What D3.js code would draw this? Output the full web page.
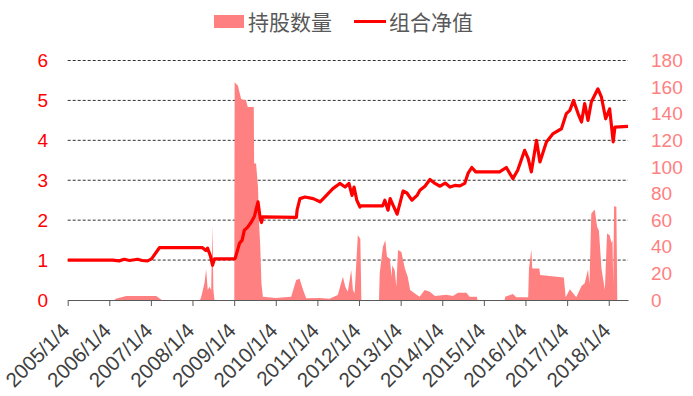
<!DOCTYPE html>
<html>
<head>
<meta charset="utf-8">
<script src="https://cdn.jsdelivr.net/npm/d3@7"></script>
<style>
  body { margin: 0; background: #fff; }
  svg { display: block; font-family: "Liberation Sans", Arial, sans-serif; }
</style>
</head>
<body>
<div id="container"></div>
<script>
const width = 693, height = 396;

// 组合净值 (left axis)
const navDates = ["2005-01-04","2006-02-01","2006-04-01","2006-05-15","2006-07-01","2006-09-10","2006-10-20","2006-12-05","2007-01-10","2007-03-20",
  "2008-04-01","2008-05-01","2008-05-15","2008-06-10","2008-06-28","2008-07-15","2009-01-04","2009-01-12","2009-02-20","2009-03-15",
  "2009-04-03","2009-05-01","2009-06-05","2009-07-01","2009-08-01","2009-08-20","2009-09-01","2009-09-10","2010-07-04","2010-07-10",
  "2010-08-04","2010-09-18","2010-11-28","2011-01-28","2011-03-10","2011-05-20","2011-07-20","2011-09-04","2011-10-08","2011-11-04",
  "2011-11-22","2011-12-16","2012-01-13","2012-01-22","2012-07-31","2012-08-18","2012-09-15","2012-10-04","2012-10-30","2012-12-04",
  "2013-01-01","2013-01-25","2013-02-28","2013-04-12","2013-05-28","2013-06-22","2013-08-05","2013-09-18","2013-11-01","2013-12-15",
  "2014-01-30","2014-03-12","2014-04-24","2014-06-08","2014-07-20","2014-08-18","2014-09-20","2014-10-25","2015-05-22","2015-07-20",
  "2015-09-16","2015-10-28","2015-12-28","2016-01-28","2016-02-25","2016-04-10","2016-05-10","2016-07-06","2016-09-03","2016-11-15",
  "2016-12-28","2017-01-28","2017-03-01","2017-04-10","2017-05-10","2017-06-07","2017-07-06","2017-08-04","2017-10-01","2017-11-01",
  "2017-12-08","2018-01-12","2018-02-12","2018-02-27","2018-06-22"];
const navValues = [1.00,1.00,0.98,1.02,0.99,1.02,0.99,0.98,1.03,1.31,
  1.31,1.24,1.30,1.10,0.87,1.03,1.03,1.04,1.42,1.50,
  1.75,1.82,1.96,2.10,2.46,2.05,1.94,2.08,2.07,2.25,
  2.54,2.58,2.54,2.46,2.58,2.79,2.92,2.83,2.92,2.62,
  2.83,2.50,2.33,2.36,2.36,2.50,2.25,2.54,2.37,2.15,
  2.46,2.73,2.68,2.50,2.62,2.75,2.85,3.02,2.92,2.85,
  2.93,2.83,2.87,2.86,2.92,3.17,3.32,3.21,3.21,3.32,
  3.04,3.25,3.75,3.54,3.21,4.00,3.46,3.96,4.17,4.29,
  4.67,4.75,5.00,4.67,4.46,4.92,4.50,4.96,5.29,5.08,
  4.54,4.79,3.96,4.33,4.35];

// 持股数量 (right axis)
const holdDates = ["2005-01-04","2006-02-20","2006-03-01","2006-06-01","2007-02-20","2007-03-25","2007-04-10","2008-03-10","2008-03-20","2008-04-18",
  "2008-05-03","2008-05-17","2008-06-01","2008-06-16","2008-06-28","2008-07-05","2008-07-15","2009-01-05","2009-01-08","2009-02-06",
  "2009-03-06","2009-04-18","2009-05-03","2009-06-25","2009-06-28","2009-07-15","2009-08-01","2009-08-09","2009-08-21","2009-08-31",
  "2009-09-13","2010-01-04","2010-05-19","2010-07-02","2010-08-01","2010-09-01","2010-09-28","2011-01-25","2011-04-20","2011-07-02",
  "2011-08-16","2011-09-06","2011-09-28","2011-10-28","2011-11-12","2011-11-27","2011-12-25","2012-01-16","2012-01-25","2012-06-28",
  "2012-07-04","2012-08-01","2012-08-22","2012-09-06","2012-10-01","2012-10-16","2012-10-22","2012-11-12","2012-11-27","2012-12-12",
  "2013-01-10","2013-02-10","2013-03-07","2013-03-28","2013-05-06","2013-06-19","2013-08-03","2013-09-16","2013-11-01","2014-02-10",
  "2014-04-07","2014-05-22","2014-08-04","2014-09-01","2014-11-03","2014-11-10","2015-07-05","2015-07-10","2015-09-16","2015-10-16",
  "2016-01-28","2016-02-04","2016-02-25","2016-03-04","2016-05-05","2016-05-12","2016-12-06","2016-12-22","2017-01-28","2017-03-25",
  "2017-05-10","2017-06-07","2017-07-06","2017-07-19","2017-08-04","2017-09-03","2017-09-24","2017-10-10","2017-11-01","2017-12-01",
  "2017-12-20","2018-01-12","2018-01-27","2018-02-06","2018-02-12","2018-02-20","2018-03-12","2018-03-20","2018-06-22"];
const holdValues = [0,0,1,3,3,1,0,0,2,12.5,
  23,7.5,10,7.5,56,8,0,0,163.7,161,
  151,150,145,145,102.5,102.5,85,60,40,12.5,
  2.5,1.5,2.5,15,16,7.5,1.3,1.5,1,3.75,
  17.5,10,6.25,22.5,7.5,5,48.75,46,0,0,
  20,40,45,32.5,31,17.5,26,22.5,10,37.5,
  36,23.75,17.5,7.5,5,2.5,7.5,6.25,3,4,
  3,5.5,5.5,2.5,2.5,0,0,2.5,4.5,2,
  2,23.75,38,23.75,23.75,18.75,17,2,8,2,
  10.5,12.5,23,12,65,68,55,52,23.75,7.5,
  50,48.75,43,45,12.5,70.5,70,0,0];

const tickDates = ["2005-01-04","2006-01-04","2007-01-04","2008-01-04","2009-01-04","2010-01-04","2011-01-04",
  "2012-01-04","2013-01-04","2014-01-04","2015-01-04","2016-01-04","2017-01-04","2018-01-04"];
const leftTicks = [0, 1, 2, 3, 4, 5, 6];
const rightTicks = [0, 20, 40, 60, 80, 100, 120, 140, 160, 180];

const parse = d3.timeParse("%Y-%m-%d");
const fmt = d3.timeFormat("%Y/%-m/%-d");

const svg = d3.select("#container").append("svg")
    .attr("width", width)
    .attr("height", height);

const x = d3.scaleTime()
    .domain([parse("2005-01-04"), parse("2018-06-22")])
    .range([67.7, 628]);
const yL = d3.scaleLinear().domain([0, 6]).range([300, 60.5]);
const yR = d3.scaleLinear().domain([0, 180]).range([300, 60.5]);

const nav = navDates.map((d, i) => ({ date: parse(d), v: navValues[i] }));
const hold = holdDates.map((d, i) => ({ date: parse(d), v: holdValues[i] }));

// dashed gridlines
svg.append("g").selectAll("line")
    .data(leftTicks.filter(d => d > 0))
    .join("line")
    .attr("x1", x.range()[0])
    .attr("x2", x.range()[1])
    .attr("y1", d => yL(d))
    .attr("y2", d => yL(d))
    .attr("stroke", "#1a1a1a")
    .attr("stroke-width", 0.9)
    .attr("stroke-dasharray", "3,2");

// holdings area
svg.append("path")
    .datum(hold)
    .attr("fill", "#FF8080")
    .attr("d", d3.area()
        .x(d => x(d.date))
        .y0(yR(0))
        .y1(d => yR(d.v)));

// x axis
const xAxis = svg.append("g")
    .attr("transform", `translate(0,${yL(0)})`)
    .call(d3.axisBottom(x)
        .tickValues(tickDates.map(parse))
        .tickSize(6)
        .tickSizeOuter(0)
        .tickFormat(""));
xAxis.select(".domain").attr("stroke", "#595959");
xAxis.selectAll(".tick line").attr("stroke", "#595959");

svg.append("g").selectAll("text")
    .data(tickDates.map(parse))
    .join("text")
    .attr("transform", d => `translate(${x(d) + 3},332) rotate(-45)`)
    .attr("text-anchor", "end")
    .attr("font-size", 20.5)
    .attr("fill", "#404040")
    .text(d => fmt(d));

// net value line
svg.append("path")
    .datum(nav)
    .attr("fill", "none")
    .attr("stroke", "#FF0000")
    .attr("stroke-width", 3.2)
    .attr("stroke-linejoin", "round")
    .attr("d", d3.line()
        .x(d => x(d.date))
        .y(d => yL(d.v)));

// left axis labels
const leftAxis = svg.append("g")
    .attr("transform", "translate(48,0)")
    .call(d3.axisLeft(yL).tickValues(leftTicks).tickSize(0).tickPadding(0).tickFormat(d3.format("d")));
leftAxis.select(".domain").remove();
leftAxis.selectAll("text")
    .attr("font-size", 19)
    .attr("font-family", "Liberation Sans, Arial, sans-serif")
    .attr("fill", "#FF0000");

// right axis labels
const rightAxis = svg.append("g")
    .attr("transform", "translate(651,0)")
    .call(d3.axisRight(yR).tickValues(rightTicks).tickSize(0).tickPadding(0));
rightAxis.select(".domain").remove();
rightAxis.selectAll("text")
    .attr("font-size", 19)
    .attr("font-family", "Liberation Sans, Arial, sans-serif")
    .attr("fill", "#FF8080");

// legend
const legend = svg.append("g")
    .style("font-family", "'Noto Sans CJK SC', sans-serif")
    .attr("font-size", 21)
    .attr("fill", "#595959");
legend.append("rect")
    .attr("x", 214).attr("y", 15)
    .attr("width", 30).attr("height", 13)
    .attr("fill", "#FF8080");
legend.append("text")
    .attr("x", 248).attr("y", 21)
    .attr("dominant-baseline", "central")
    .text("持股数量");
legend.append("line")
    .attr("x1", 354).attr("x2", 386)
    .attr("y1", 21.5).attr("y2", 21.5)
    .attr("stroke", "#FF0000")
    .attr("stroke-width", 3);
legend.append("text")
    .attr("x", 389).attr("y", 21)
    .attr("dominant-baseline", "central")
    .text("组合净值");
</script>
</body>
</html>
